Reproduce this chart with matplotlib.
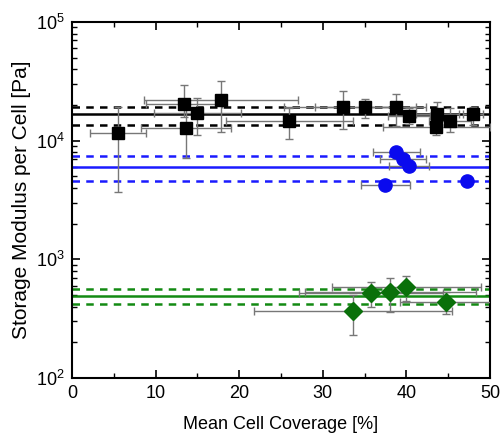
import matplotlib
matplotlib.use("Agg")
import matplotlib.pyplot as plt
import numpy as np
from matplotlib.ticker import LogLocator, MultipleLocator

plt.rcParams['font.family'] = ['Liberation Sans', 'DejaVu Sans']

# Black squares
bx = [5.5, 13.4, 13.6, 15.0, 17.8, 26.0, 32.4, 35.1, 38.8, 40.3, 43.7, 43.6, 45.2, 48.0]
by = [11500, 20400, 12700, 17200, 22000, 14700, 19300, 19200, 19300, 16200, 16800, 13100, 14600, 16700]
by_lo = [7800, 4500, 5600, 6000, 10100, 4400, 6700, 3600, 5900, 2400, 3000, 1900, 2700, 3200]
by_hi = [7700, 9100, 6000, 5600, 9800, 4300, 6900, 3300, 5400, 2600, 4500, 1200, 4200, 2500]
bx_err = [3.3, 4.6, 5.4, 5.2, 9.2, 7.6, 7.0, 6.0, 3.5, 2.5, 2.6, 6.4, 2.5, 1.2]

# Blue circles
cx = [38.8, 39.6, 40.3, 37.5, 47.3]
cy = [8080, 7050, 6120, 4210, 4600]
cx_err = [2.85, 2.75, 2.4, 2.95, 0.3]
cy_err = [600, 500, 400, 300, 250]

# Green diamonds
gx = [33.6, 35.8, 38.1, 40.0, 44.7]
gy = [367, 518, 530, 589, 440]
gy_lo = [136, 118, 168, 144, 97]
gy_hi = [133, 121, 172, 137, 95]
gx_err = [11.8, 8.6, 10.2, 8.9, 5.5]

# Mean and +/- lines
black_lines = [16800, 19200, 13600]
blue_lines = [6040, 7480, 4580]
green_lines = [492, 563, 419]

fig = plt.figure(figsize=(5.01, 4.36), dpi=100)
ax = fig.add_axes([0.1437, 0.133, 0.8343, 0.8165])

ecol = '#777777'
ax.errorbar(bx, by, yerr=[by_lo, by_hi], xerr=bx_err, fmt='s', color='black',
            ms=9, ecolor=ecol, elinewidth=1, capsize=3, capthick=1, zorder=3)
ax.errorbar(cx, cy, yerr=cy_err, xerr=cx_err, fmt='o', color='#0a0aee',
            ms=9.5, ecolor=ecol, elinewidth=1, capsize=3, capthick=1, zorder=3)
ax.errorbar(gx, gy, yerr=[gy_lo, gy_hi], xerr=gx_err, fmt='D', color='#0a700a',
            ms=9, ecolor=ecol, elinewidth=1, capsize=3, capthick=1, zorder=3)

for lines, col in [(black_lines, 'black'), (blue_lines, '#1a1aff'), (green_lines, '#138a13')]:
    ax.axhline(lines[0], color=col, lw=1.8, zorder=2)
    ax.axhline(lines[1], color=col, lw=1.8, ls=(0, (3, 2.5)), zorder=2)
    ax.axhline(lines[2], color=col, lw=1.8, ls=(0, (3, 2.5)), zorder=2)

ax.set_yscale('log')
ax.set_ylim(100, 100000)
ax.set_xlim(0, 50)
ax.xaxis.set_major_locator(MultipleLocator(10))
ax.xaxis.set_minor_locator(MultipleLocator(5))
ax.yaxis.set_major_locator(LogLocator(base=10))
ax.yaxis.set_minor_locator(LogLocator(base=10, subs=np.arange(2, 10)))
ax.yaxis.set_minor_formatter(plt.NullFormatter())
ax.tick_params(which='both', direction='in', top=True, right=True, labelsize=13)
ax.tick_params(which='major', length=6, width=1.2, pad=5)
ax.tick_params(which='minor', length=3.5, width=1.0)
for s in ax.spines.values():
    s.set_linewidth(1.5)
ax.set_xlabel('Mean Cell Coverage [%]', fontsize=13, labelpad=10)
ax.set_ylabel('Storage Modulus per Cell [Pa]', fontsize=15, labelpad=4)

fig.savefig('out.png', dpi=100)
